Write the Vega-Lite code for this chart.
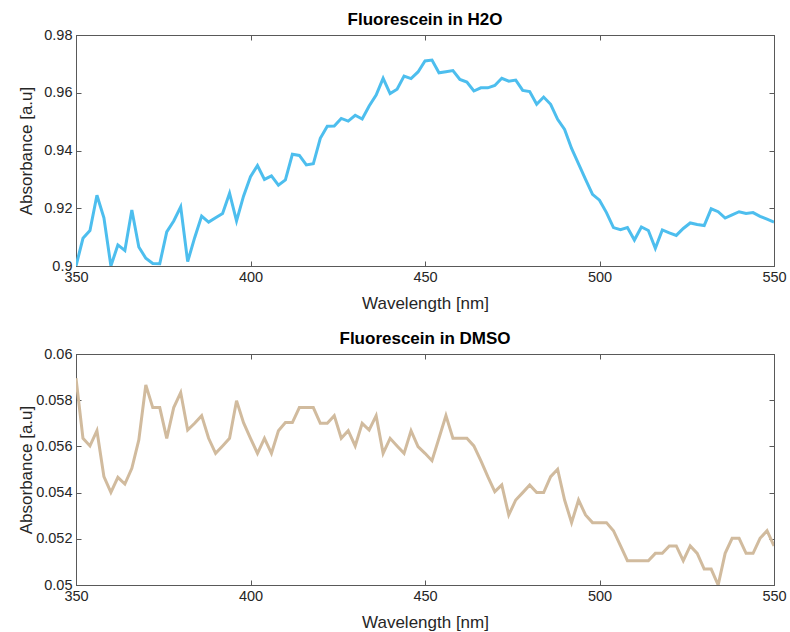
{
  "$schema": "https://vega.github.io/schema/vega-lite/v6.json",
  "padding": {"left": 16, "top": 10, "right": 10, "bottom": 0},
  "background": "white",
  "spacing": 17,
  "datasets": {
    "h2o": [
      {"wl":350,"abs":0.9},{"wl":352,"abs":0.9096},{"wl":354,"abs":0.9123},{"wl":356,"abs":0.9245},{"wl":358,"abs":0.9167},
      {"wl":360,"abs":0.9},{"wl":362,"abs":0.9073},{"wl":364,"abs":0.9054},{"wl":366,"abs":0.9194},{"wl":368,"abs":0.9066},
      {"wl":370,"abs":0.9027},{"wl":372,"abs":0.9009},{"wl":374,"abs":0.9008},{"wl":376,"abs":0.9118},{"wl":378,"abs":0.9156},
      {"wl":380,"abs":0.9205},{"wl":382,"abs":0.9015},{"wl":384,"abs":0.9098},{"wl":386,"abs":0.9173},{"wl":388,"abs":0.9152},
      {"wl":390,"abs":0.9167},{"wl":392,"abs":0.9182},{"wl":394,"abs":0.9252},{"wl":396,"abs":0.9156},{"wl":398,"abs":0.9242},
      {"wl":400,"abs":0.9309},{"wl":402,"abs":0.9348},{"wl":404,"abs":0.93},{"wl":406,"abs":0.9312},{"wl":408,"abs":0.928},
      {"wl":410,"abs":0.9298},{"wl":412,"abs":0.9387},{"wl":414,"abs":0.9383},{"wl":416,"abs":0.935},{"wl":418,"abs":0.9354},
      {"wl":420,"abs":0.9442},{"wl":422,"abs":0.9484},{"wl":424,"abs":0.9485},{"wl":426,"abs":0.9511},{"wl":428,"abs":0.9502},
      {"wl":430,"abs":0.9522},{"wl":432,"abs":0.9509},{"wl":434,"abs":0.9554},{"wl":436,"abs":0.9592},{"wl":438,"abs":0.965},
      {"wl":440,"abs":0.9597},{"wl":442,"abs":0.9612},{"wl":444,"abs":0.9658},{"wl":446,"abs":0.9649},{"wl":448,"abs":0.9672},
      {"wl":450,"abs":0.971},{"wl":452,"abs":0.9713},{"wl":454,"abs":0.9669},{"wl":456,"abs":0.9673},{"wl":458,"abs":0.9677},
      {"wl":460,"abs":0.9646},{"wl":462,"abs":0.9637},{"wl":464,"abs":0.9606},{"wl":466,"abs":0.9617},{"wl":468,"abs":0.9617},
      {"wl":470,"abs":0.9625},{"wl":472,"abs":0.965},{"wl":474,"abs":0.964},{"wl":476,"abs":0.9644},{"wl":478,"abs":0.9608},
      {"wl":480,"abs":0.9604},{"wl":482,"abs":0.956},{"wl":484,"abs":0.9585},{"wl":486,"abs":0.956},{"wl":488,"abs":0.9508},
      {"wl":490,"abs":0.9473},{"wl":492,"abs":0.9407},{"wl":494,"abs":0.9354},{"wl":496,"abs":0.93},{"wl":498,"abs":0.9248},
      {"wl":500,"abs":0.9228},{"wl":502,"abs":0.9185},{"wl":504,"abs":0.9133},{"wl":506,"abs":0.9126},{"wl":508,"abs":0.9133},
      {"wl":510,"abs":0.909},{"wl":512,"abs":0.9135},{"wl":514,"abs":0.9123},{"wl":516,"abs":0.9061},{"wl":518,"abs":0.9125},
      {"wl":520,"abs":0.9115},{"wl":522,"abs":0.9106},{"wl":524,"abs":0.913},{"wl":526,"abs":0.9149},{"wl":528,"abs":0.9144},
      {"wl":530,"abs":0.914},{"wl":532,"abs":0.9198},{"wl":534,"abs":0.9188},{"wl":536,"abs":0.9166},{"wl":538,"abs":0.9177},
      {"wl":540,"abs":0.9188},{"wl":542,"abs":0.9182},{"wl":544,"abs":0.9185},{"wl":546,"abs":0.9172},{"wl":548,"abs":0.9162},
      {"wl":550,"abs":0.9152}
    ],
    "dmso": [
      {"wl":350,"abs":0.05895},{"wl":352,"abs":0.05635},{"wl":354,"abs":0.05602},{"wl":356,"abs":0.05668},{"wl":358,"abs":0.05469},
      {"wl":360,"abs":0.05401},{"wl":362,"abs":0.05466},{"wl":364,"abs":0.05437},{"wl":366,"abs":0.05505},{"wl":368,"abs":0.05628},
      {"wl":370,"abs":0.05866},{"wl":372,"abs":0.05768},{"wl":374,"abs":0.05768},{"wl":376,"abs":0.05635},{"wl":378,"abs":0.05768},
      {"wl":380,"abs":0.05833},{"wl":382,"abs":0.05671},{"wl":384,"abs":0.057},{"wl":386,"abs":0.05733},{"wl":388,"abs":0.05635},
      {"wl":390,"abs":0.0557},{"wl":392,"abs":0.05602},{"wl":394,"abs":0.05635},{"wl":396,"abs":0.05798},{"wl":398,"abs":0.05703},
      {"wl":400,"abs":0.05635},{"wl":402,"abs":0.0557},{"wl":404,"abs":0.05635},{"wl":406,"abs":0.0557},{"wl":408,"abs":0.05668},
      {"wl":410,"abs":0.05703},{"wl":412,"abs":0.05703},{"wl":414,"abs":0.05768},{"wl":416,"abs":0.05768},{"wl":418,"abs":0.05768},
      {"wl":420,"abs":0.057},{"wl":422,"abs":0.057},{"wl":424,"abs":0.05733},{"wl":426,"abs":0.05635},{"wl":428,"abs":0.05668},
      {"wl":430,"abs":0.05602},{"wl":432,"abs":0.057},{"wl":434,"abs":0.05671},{"wl":436,"abs":0.05733},{"wl":438,"abs":0.0557},
      {"wl":440,"abs":0.05635},{"wl":442,"abs":0.05602},{"wl":444,"abs":0.0557},{"wl":446,"abs":0.05668},{"wl":448,"abs":0.05599},
      {"wl":450,"abs":0.0557},{"wl":452,"abs":0.05538},{"wl":454,"abs":0.05635},{"wl":456,"abs":0.05733},{"wl":458,"abs":0.05635},
      {"wl":460,"abs":0.05635},{"wl":462,"abs":0.05635},{"wl":464,"abs":0.05602},{"wl":466,"abs":0.05538},{"wl":468,"abs":0.05469},
      {"wl":470,"abs":0.05404},{"wl":472,"abs":0.05433},{"wl":474,"abs":0.05303},{"wl":476,"abs":0.05368},{"wl":478,"abs":0.054},
      {"wl":480,"abs":0.05433},{"wl":482,"abs":0.054},{"wl":484,"abs":0.054},{"wl":486,"abs":0.05469},{"wl":488,"abs":0.05501},
      {"wl":490,"abs":0.05368},{"wl":492,"abs":0.0527},{"wl":494,"abs":0.05368},{"wl":496,"abs":0.05303},{"wl":498,"abs":0.0527},
      {"wl":500,"abs":0.0527},{"wl":502,"abs":0.0527},{"wl":504,"abs":0.05235},{"wl":506,"abs":0.0517},{"wl":508,"abs":0.05105},
      {"wl":510,"abs":0.05105},{"wl":512,"abs":0.05105},{"wl":514,"abs":0.05105},{"wl":516,"abs":0.05137},{"wl":518,"abs":0.05137},
      {"wl":520,"abs":0.05169},{"wl":522,"abs":0.05169},{"wl":524,"abs":0.05105},{"wl":526,"abs":0.05169},{"wl":528,"abs":0.05137},
      {"wl":530,"abs":0.05069},{"wl":532,"abs":0.05069},{"wl":534,"abs":0.05},{"wl":536,"abs":0.05137},{"wl":538,"abs":0.05202},
      {"wl":540,"abs":0.05202},{"wl":542,"abs":0.05137},{"wl":544,"abs":0.05137},{"wl":546,"abs":0.05202},{"wl":548,"abs":0.05235},
      {"wl":550,"abs":0.05169}
    ]
  },
  "vconcat": [
    {
      "title": "Fluorescein in H2O",
      "width": 698,
      "height": 231,
      "data": {"name": "h2o"},
      "layer": [
        {
          "mark": {"type": "line", "color": "#4DBEEE", "strokeWidth": 3, "clip": true},
          "encoding": {
            "x": {"field": "wl", "type": "quantitative", "scale": {"domain": [350, 550], "nice": false, "zero": false},
                  "axis": {"title": "Wavelength [nm]", "values": [350, 400, 450, 500, 550], "format": "d"}},
            "y": {"field": "abs", "type": "quantitative", "scale": {"domain": [0.9, 0.98], "nice": false, "zero": false},
                  "axis": {"title": "Absorbance [a.u]", "values": [0.9, 0.92, 0.94, 0.96, 0.98], "format": "~g"}}
          }
        },
        {
          "mark": {"type": "line", "opacity": 0},
          "encoding": {
            "x": {"field": "wl", "type": "quantitative", "scale": {"domain": [350, 550], "nice": false, "zero": false},
                  "axis": {"orient": "top", "title": null, "labels": false, "values": [350, 400, 450, 500, 550], "minExtent": 0, "maxExtent": 0}},
            "y": {"field": "abs", "type": "quantitative", "scale": {"domain": [0.9, 0.98], "nice": false, "zero": false},
                  "axis": {"orient": "right", "title": null, "labels": false, "values": [0.9, 0.92, 0.94, 0.96, 0.98], "minExtent": 0, "maxExtent": 0}}
          }
        }
      ],
      "resolve": {"axis": {"x": "independent", "y": "independent"}}
    },
    {
      "title": "Fluorescein in DMSO",
      "width": 698,
      "height": 231,
      "data": {"name": "dmso"},
      "layer": [
        {
          "mark": {"type": "line", "color": "#D1BB9E", "strokeWidth": 3, "clip": true},
          "encoding": {
            "x": {"field": "wl", "type": "quantitative", "scale": {"domain": [350, 550], "nice": false, "zero": false},
                  "axis": {"title": "Wavelength [nm]", "values": [350, 400, 450, 500, 550], "format": "d"}},
            "y": {"field": "abs", "type": "quantitative", "scale": {"domain": [0.05, 0.06], "nice": false, "zero": false},
                  "axis": {"title": "Absorbance [a.u]", "values": [0.05, 0.052, 0.054, 0.056, 0.058, 0.06], "format": "~g"}}
          }
        },
        {
          "mark": {"type": "line", "opacity": 0},
          "encoding": {
            "x": {"field": "wl", "type": "quantitative", "scale": {"domain": [350, 550], "nice": false, "zero": false},
                  "axis": {"orient": "top", "title": null, "labels": false, "values": [350, 400, 450, 500, 550], "minExtent": 0, "maxExtent": 0}},
            "y": {"field": "abs", "type": "quantitative", "scale": {"domain": [0.05, 0.06], "nice": false, "zero": false},
                  "axis": {"orient": "right", "title": null, "labels": false, "values": [0.05, 0.052, 0.054, 0.056, 0.058, 0.06], "minExtent": 0, "maxExtent": 0}}
          }
        }
      ],
      "resolve": {"axis": {"x": "independent", "y": "independent"}}
    }
  ],
  "config": {
    "view": {"stroke": "#595959", "strokeWidth": 1},
    "title": {"font": "Liberation Sans", "fontSize": 17, "fontWeight": "bold", "color": "#000000", "offset": -2, "anchor": "middle"},
    "axis": {
      "grid": false,
      "domainColor": "#595959",
      "tickColor": "#595959",
      "tickSize": -5,
      "labelPadding": 12,
      "labelFlush": false,
      "labelFont": "Liberation Sans",
      "labelFontSize": 14.5,
      "labelColor": "#262626",
      "titleFont": "Liberation Sans",
      "titleFontSize": 17,
      "titleFontWeight": "normal",
      "titleColor": "#262626"
    },
    "axisY": {"minExtent": 37, "maxExtent": 37, "titlePadding": 4, "labelPadding": 9},
    "axisX": {"titlePadding": 12, "labelPadding": 9}
  }
}
